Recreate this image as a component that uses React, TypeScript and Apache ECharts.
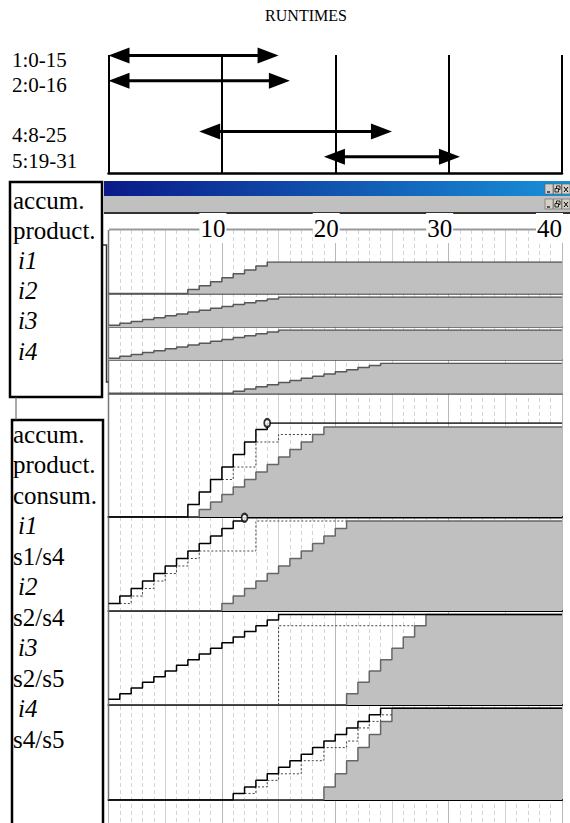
import React, { useEffect, useRef } from "react";
import * as echarts from "echarts";

// ---------- RUNTIMES (top chart) ----------
const runIds = [1, 2, 4, 5];
const runStart = [0, 0, 8, 19];
const runEnd = [15, 16, 25, 31];

// ---------- time axis ----------
const timeMax = 40;
const timeTickLabels = [10, 20, 30, 40];

// ---------- panel labels ----------
const upperPanelLabels = ["accum.", "product.", "i1", "i2", "i3", "i4"];
const lowerPanelLabels = ["accum.", "product.", "consum.", "i1", "s1/s4", "i2", "s2/s4", "i3", "s2/s5", "i4", "s4/s5"];

// ---------- upper panel: accumulated production, [time, amount] change points ----------
const upProdI1 = [[0, 0], [7, 1], [8, 2], [9, 3], [10, 4], [11, 5], [12, 6], [13, 7], [14, 8], [40, 8]];
const upProdI2 = [[0, 1], [1, 2], [2, 3], [3, 4], [4, 5], [5, 6], [6, 7], [7, 8], [8, 9], [9, 10], [10, 11], [11, 12], [12, 13], [13, 14], [14, 15], [15, 16], [40, 16]];
const upProdI3 = [[0, 1], [1, 2], [2, 3], [3, 4], [4, 5], [5, 6], [6, 7], [7, 8], [8, 9], [9, 10], [10, 11], [11, 12], [12, 13], [13, 14], [14, 15], [15, 16], [40, 16]];
const upProdI4 = [[0, 0], [11, 1], [12, 2], [13, 3], [14, 4], [15, 5], [16, 6], [17, 7], [18, 8], [19, 9], [20, 10], [21, 11], [22, 12], [23, 13], [24, 14], [40, 14]];
const upMax = [8, 16, 16, 14];

// ---------- lower panel: production (black), transfer (dotted), consumption (grey) ----------
const lowProdI1 = [[0, 0], [7, 5], [8, 10], [9, 15], [10, 20], [11, 25], [12, 30], [13, 35], [14, 37.6], [40, 37.6]];
const lowTransI1 = [[10, 15], [11, 20], [13, 30], [15, 33], [18, 33]];
const lowConsI1 = [[0, 0], [8, 3], [9, 6], [10, 9], [11, 12], [12, 15], [13, 18], [14, 21], [15, 24], [16, 27], [17, 30], [18, 33], [19, 36], [40, 36]];
const lowPeakI1 = [[14, 37.6]];

const lowProdI2 = [[0, 3], [1, 6], [2, 9], [3, 12], [4, 15], [5, 18], [6, 21], [7, 24], [8, 27], [9, 30], [10, 33], [11, 36], [12, 37.3], [40, 37.3]];
const lowTransI2 = [[1, 3], [2, 6], [3, 9], [4, 12], [5, 15], [6, 18], [7, 21], [8, 24], [13, 36], [21, 36]];
const lowConsI2 = [[0, 0], [10, 3], [11, 6], [12, 9], [13, 12], [14, 15], [15, 18], [16, 21], [17, 24], [18, 27], [19, 30], [20, 33], [21, 36], [40, 36]];
const lowPeakI2 = [[12, 37.3]];

const lowProdI3 = [[0, 1], [1, 2], [2, 3], [3, 4], [4, 5], [5, 6], [6, 7], [7, 8], [8, 9], [9, 10], [10, 11], [11, 12], [12, 13], [13, 14], [14, 15], [15, 16], [40, 16]];
const lowTransI3 = [[15, 0], [15, 14], [27, 14]];
const lowConsI3 = [[0, 0], [21, 2], [22, 4], [23, 6], [24, 8], [25, 10], [26, 12], [27, 14], [28, 16], [40, 16]];
const lowPeakI3: number[][] = [];

const lowProdI4 = [[0, 0], [11, 1], [12, 2], [13, 3], [14, 4], [15, 5], [16, 6], [17, 7], [18, 8], [19, 9], [20, 10], [21, 11], [22, 12], [23, 13], [24, 14], [40, 14]];
const lowTransI4 = [[12, 1], [13, 2], [14, 3], [15, 4], [17, 6], [19, 8], [21, 9], [22, 11], [23, 12], [24, 13], [25, 13]];
const lowConsI4 = [[0, 0], [19, 2], [20, 4], [21, 6], [22, 8], [23, 10], [24, 12], [25, 14], [40, 14]];
const lowPeakI4: number[][] = [];
const lowMax = [37.6, 37.6, 16.6, 14.35];

// ---------- layout ----------
const PL = 108.5;
const PR = 8;
const upperBase = [293.5, 327, 360, 393.3];
const upperHeight = [31.5, 30, 30, 30];
const lowerBase = [517, 611, 705, 800];
const lowerHeight = 94;
const SERIF = '"Liberation Serif", "Times New Roman", serif';

function buildOption() {
  const grid: any[] = [];
  const xAxis: any[] = [];
  const yAxis: any[] = [];
  const series: any[] = [];

  const addGrid = (top: number, height: number, xOpt: any, yOpt: any) => {
    const idx = grid.length;
    grid.push({ left: PL, right: PR, top, height });
    xAxis.push(Object.assign({ gridIndex: idx, type: "value", min: 0, max: timeMax, axisLabel: { show: false }, axisTick: { show: false }, axisLine: { show: false }, splitLine: { show: false } }, xOpt));
    yAxis.push(Object.assign({ gridIndex: idx, type: "value", show: false, min: 0, max: 1, splitLine: { show: false } }, yOpt));
    return idx;
  };

  // background grid lines
  const bgTop = 230;
  const bgH = 823 - bgTop;
  addGrid(bgTop, bgH, { interval: 1, splitLine: { show: true, lineStyle: { color: "#d4d4d4", type: [4, 3], width: 1 } } }, {});
  addGrid(bgTop, bgH, { interval: 5, splitLine: { show: true, lineStyle: { color: "#d2d2d2", width: 1 } } }, {});
  const bgC = addGrid(bgTop, bgH, { interval: 10, splitLine: { show: true, lineStyle: { color: "#b8b8b8", width: 1 } } }, {});

  // tick labels of the time axis
  series.push({
    type: "custom",
    xAxisIndex: bgC,
    yAxisIndex: bgC,
    z: 20,
    silent: true,
    data: timeTickLabels.map((v) => [v, 1]),
    renderItem: (params: any, api: any) => {
      const p = api.coord([api.value(0), api.value(1)]);
      const x = Math.min(p[0] + 4.5, 563);
      return {
        type: "text",
        x,
        y: 228,
        style: {
          text: String(api.value(0)),
          font: "25px " + SERIF,
          fill: "#000",
          align: "right",
          verticalAlign: "middle",
          backgroundColor: "#fff",
          padding: [5, 1, 0, 1],
        },
      };
    },
  });

  // top RUNTIMES chart
  const topIdx = addGrid(
    55,
    118,
    {
      interval: 10,
      splitLine: { show: true, lineStyle: { color: "#000", width: 2 } },
      axisLine: { show: true, onZero: false, lineStyle: { color: "#000", width: 2.5 } },
    },
    { min: 0.98, max: 5.64, inverse: true }
  );
  series.push({
    type: "custom",
    xAxisIndex: topIdx,
    yAxisIndex: topIdx,
    z: 10,
    silent: true,
    data: runIds.map((id, i) => [id, runStart[i], runEnd[i]]),
    encode: { x: [1, 2], y: 0 },
    renderItem: (params: any, api: any) => {
      const row = api.value(0);
      const s = api.value(1);
      const e = api.value(2);
      const a = api.coord([s, row]);
      const b = api.coord([e, row]);
      const y = a[1];
      const AL = 21;
      const AH = 8;
      return {
        type: "group",
        children: [
          { type: "line", shape: { x1: a[0] + AL - 2, y1: y, x2: b[0] - AL + 2, y2: y }, style: { stroke: "#000", lineWidth: 3 } },
          { type: "polygon", shape: { points: [[a[0], y], [a[0] + AL, y - AH], [a[0] + AL, y + AH]] }, style: { fill: "#000" } },
          { type: "polygon", shape: { points: [[b[0], y], [b[0] - AL, y - AH], [b[0] - AL, y + AH]] }, style: { fill: "#000" } },
          {
            type: "text",
            x: 12,
            y: y + 4,
            style: { text: `${row}:${s}-${e}`, font: "21px " + SERIF, fill: "#000", align: "left", verticalAlign: "middle" },
          },
        ],
      };
    },
  });

  // upper panel strips
  const upData = [upProdI1, upProdI2, upProdI3, upProdI4];
  upData.forEach((d, i) => {
    const idx = addGrid(
      upperBase[i] - upperHeight[i],
      upperHeight[i],
      { axisLine: { show: true, onZero: true, lineStyle: { color: "#4a4a4a", width: 1.5 } } },
      { max: upMax[i] }
    );
    series.push({
      type: "line",
      xAxisIndex: idx,
      yAxisIndex: idx,
      step: "end",
      data: d,
      showSymbol: false,
      silent: true,
      z: 2,
      lineStyle: { color: "#575757", width: 1.5 },
      areaStyle: { color: "#c0c0c0", opacity: 1 },
    });
  });

  // lower panel strips
  const lowSets = [
    [lowProdI1, lowTransI1, lowConsI1, lowPeakI1],
    [lowProdI2, lowTransI2, lowConsI2, lowPeakI2],
    [lowProdI3, lowTransI3, lowConsI3, lowPeakI3],
    [lowProdI4, lowTransI4, lowConsI4, lowPeakI4],
  ];
  lowSets.forEach((set, i) => {
    const [prod, trans, cons, peak] = set;
    const idx = addGrid(
      lowerBase[i] - lowerHeight,
      lowerHeight,
      { axisLine: { show: true, onZero: true, lineStyle: { color: "#000", width: 2 } } },
      { max: lowMax[i] }
    );
    series.push({
      type: "line", xAxisIndex: idx, yAxisIndex: idx, step: "end", data: cons, showSymbol: false, silent: true, z: 2,
      lineStyle: { color: "#666", width: 1.5 },
      areaStyle: { color: "#c0c0c0", opacity: 1 },
    });
    series.push({
      type: "line", xAxisIndex: idx, yAxisIndex: idx, step: "end", data: trans, showSymbol: false, silent: true, z: 3,
      lineStyle: { color: "#444", width: 1, type: [2, 2] },
    });
    series.push({
      type: "line", xAxisIndex: idx, yAxisIndex: idx, step: "end", data: prod, showSymbol: false, silent: true, z: 4,
      lineStyle: { color: "#000", width: 1.5 },
    });
    if (peak.length) {
      series.push({
        type: "scatter", xAxisIndex: idx, yAxisIndex: idx, data: peak, silent: true, z: 5,
        symbol: "emptyCircle", symbolSize: [6, 8],
        itemStyle: { color: "#000", borderColor: "#000", borderWidth: 1.2 },
      });
    }
  });

  // chrome & boxes (decoration)
  const graphic: any[] = [];
  graphic.push({
    type: "text", x: 306, y: 15, z: 5,
    style: { text: "RUNTIMES", font: "16px " + SERIF, fill: "#000", align: "center", verticalAlign: "middle" },
  });
  graphic.push({
    type: "rect", z: 1, shape: { x: 104, y: 181, width: 466, height: 15 },
    style: { fill: new echarts.graphic.LinearGradient(0, 0, 1, 0, [{ offset: 0, color: "#0a1a88" }, { offset: 1, color: "#1890da" }]) },
  });
  graphic.push({ type: "rect", z: 1, shape: { x: 104, y: 196, width: 466, height: 16 }, style: { fill: "#c0c0c0" } });
  [184, 199].forEach((by) => {
    [545, 553.5, 562].forEach((bx, k) => {
      graphic.push({ type: "rect", z: 2, shape: { x: bx, y: by, width: 8, height: 10 }, style: { fill: "#d4d0c8", stroke: "#606060", lineWidth: 0.6 } });
      if (k === 0) graphic.push({ type: "line", z: 3, shape: { x1: bx + 2, y1: by + 8, x2: bx + 5, y2: by + 8 }, style: { stroke: "#000", lineWidth: 1.2 } });
      if (k === 1) {
        graphic.push({ type: "rect", z: 3, shape: { x: bx + 3, y: by + 2, width: 3.5, height: 3.5 }, style: { fill: "none", stroke: "#000", lineWidth: 0.8 } });
        graphic.push({ type: "rect", z: 3, shape: { x: bx + 1.5, y: by + 4.5, width: 3.5, height: 3.5 }, style: { fill: "#d4d0c8", stroke: "#000", lineWidth: 0.8 } });
      }
      if (k === 2) {
        graphic.push({ type: "line", z: 3, shape: { x1: bx + 2, y1: by + 3, x2: bx + 6, y2: by + 8 }, style: { stroke: "#000", lineWidth: 1 } });
        graphic.push({ type: "line", z: 3, shape: { x1: bx + 6, y1: by + 3, x2: bx + 2, y2: by + 8 }, style: { stroke: "#000", lineWidth: 1 } });
      }
    });
  });
  graphic.push({ type: "line", z: 1, shape: { x1: 104, y1: 213, x2: 570, y2: 213 }, style: { stroke: "#333", lineWidth: 2 } });
  graphic.push({ type: "line", z: 1, shape: { x1: 109, y1: 229.5, x2: 562, y2: 229.5 }, style: { stroke: "#999", lineWidth: 2 } });
  graphic.push({ type: "line", z: 1, shape: { x1: 108.5, y1: 230, x2: 108.5, y2: 800 }, style: { stroke: "#777", lineWidth: 1.5 } });
  graphic.push({ type: "polyline", z: 1, shape: { points: [[102, 245], [106.5, 245], [106.5, 382], [108.5, 382]] }, style: { stroke: "#333", lineWidth: 1.5, fill: "none" } });

  // label boxes
  graphic.push({ type: "rect", z: 4, shape: { x: 10, y: 182, width: 92, height: 215 }, style: { fill: "#fff", stroke: "#000", lineWidth: 2.5 } });
  graphic.push({ type: "rect", z: 4, shape: { x: 12, y: 420, width: 91, height: 420 }, style: { fill: "#fff", stroke: "#000", lineWidth: 2.5 } });
  graphic.push({ type: "line", z: 4, shape: { x1: 16, y1: 397, x2: 16, y2: 420 }, style: { stroke: "#555", lineWidth: 1 } });

  const addLabels = (labels: string[], y0: number, dy: number) => {
    labels.forEach((t, i) => {
      const italic = /^i\d$/.test(t);
      graphic.push({
        type: "text", z: 6, x: italic ? 18 : 13, y: y0 + i * dy,
        style: { text: t, font: (italic ? "italic " : "") + "25px " + SERIF, fill: "#000", align: "left", verticalAlign: "middle" },
      });
    });
  };
  addLabels(upperPanelLabels, 200, 30.2);
  addLabels(lowerPanelLabels, 434, 30.5);

  return {
    animation: false,
    backgroundColor: "#fff",
    grid,
    xAxis,
    yAxis,
    series,
    graphic,
  };
}

export default function App() {
  const ref = useRef<HTMLDivElement>(null);
  useEffect(() => {
    if (!ref.current) return;
    const chart = echarts.init(ref.current, null, { renderer: "svg" });
    chart.setOption(buildOption() as any);
    return () => chart.dispose();
  }, []);
  return <div ref={ref} style={{ position: "fixed", left: 0, top: 0, width: 570, height: 823, background: "#fff" }} />;
}
